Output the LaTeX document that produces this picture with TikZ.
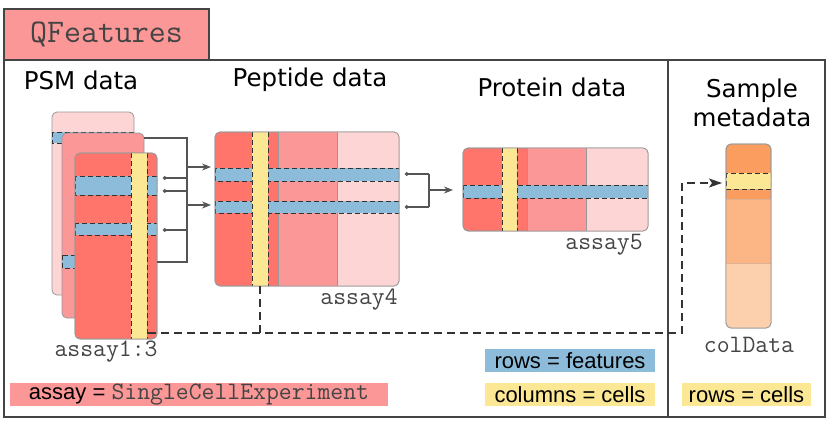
\documentclass[tikz,border=0pt]{standalone}
\usepackage{fontspec}
\setmainfont{DejaVu Sans}
\newfontfamily\legendfont{Liberation Sans}
\usetikzlibrary{arrows.meta}

\definecolor{redA}{HTML}{FF746B}
\definecolor{redB}{HTML}{FC9797}
\definecolor{redC}{HTML}{FDD5D5}
\definecolor{rowblue}{HTML}{8CBCDA}
\definecolor{colyellow}{HTML}{FCE795}
\definecolor{orangeA}{HTML}{FB9D5E}
\definecolor{orangeB}{HTML}{FCB585}
\definecolor{orangeC}{HTML}{FDD0AD}
\definecolor{edgegray}{HTML}{999999}
\definecolor{linkgray}{HTML}{555555}
\definecolor{monogray}{HTML}{444444}

\tikzset{
  frame/.style={draw=monogray, line width=1.4pt},
  card/.style={draw=edgegray, line width=0.8pt, rounded corners=5pt, inner sep=0pt, outer sep=0pt, anchor=north west},
  cardedge/.style={draw=edgegray, line width=0.8pt, rounded corners=5pt},
  colsep/.style={draw=edgegray, line width=0.8pt},
  band/.style={fill=rowblue, draw=black!80, dash pattern=on 5pt off 3pt, line width=1pt},
  colband/.style={fill=colyellow},
  coledge/.style={draw=black!80, dash pattern=on 5pt off 3pt, line width=1pt},
  link/.style={draw=linkgray, line width=1.3pt},
  dotlink/.style={link, {Circle[length=3.5pt]}-},
  arrowlink/.style={link, -{Stealth[length=9pt, width=7pt]}},
  longdash/.style={draw=black!80, dash pattern=on 8pt off 5pt, line width=1.1pt},
  title/.style={font=\fontsize{24.5}{29}\selectfont},
  mono/.style={font=\ttfamily\fontsize{25}{30}\selectfont, text=monogray},
  legend/.style={font=\legendfont\fontsize{22}{26}\selectfont, inner sep=0pt, minimum height=23pt}
}

\begin{document}
\begin{tikzpicture}[x=1pt, y=-1pt]
\useasboundingbox (0,0) rectangle (832,426);

% QFeatures tab and frame
\node[draw=monogray, line width=1.4pt, fill=redB, minimum width=205pt, minimum height=51pt,
      font=\ttfamily\fontsize{33}{38}\selectfont, text=monogray] (tab) at (106.5,34.5) {QFeatures};
\draw[frame] (4,60) rectangle (825,417);
\draw[frame] (668,60) -- (668,417);

% titles
\node[title] (psmtitle) at (81,80) {PSM data};
\node[title] (peptitle) at (310,80) {Peptide data};
\node[title] (prottitle) at (552,87) {Protein data};
\node[title, align=center] (sampletitle) at (752,103) {Sample\\metadata};

% PSM data, back card
\node[card, fill=redC, minimum width=82pt, minimum height=183pt] (psmback) at (52,112) {};
\begin{scope}
  \clip[rounded corners=5pt] (52,112) rectangle (134,295);
  \draw[band] (52,132) rectangle (134,143);
\end{scope}
% middle card
\node[card, fill=redB, minimum width=82pt, minimum height=185pt] (psmmid) at (62,133) {};
\begin{scope}
  \clip[rounded corners=5pt] (62,133) rectangle (144,318);
  \draw[band] (62,255) rectangle (144,268);
\end{scope}
% front card
\node[card, fill=redA, minimum width=82pt, minimum height=186pt] (psmfront) at (75,153) {};
\begin{scope}
  \clip[rounded corners=5pt] (75,153) rectangle (157,339);
  \draw[band] (75,176) rectangle (157,195);
  \draw[band] (75,223) rectangle (157,235);
  \fill[colband] (131,153) rectangle (147,339);
  \draw[coledge] (131,153) -- (131,339) (147,153) -- (147,339);
\end{scope}
\draw[cardedge] (psmfront.north west) rectangle (psmfront.south east);
% label
\node[mono] (psmlabel) at (106,352) {assay1:3};

% PSM -> peptide
\coordinate (j1) at (187,138);
\coordinate (j2) at (187,262);
\draw[link] (psmmid.east |- j1) -- (j1) -- (j2) -- (psmfront.east |- j2);
\coordinate (d1) at (163,178);
\coordinate (d2) at (163,191);
\coordinate (d3) at (163,230);
\draw[dotlink] (d1) -- (d1 -| j1);
\draw[dotlink] (d2) -- (d2 -| j1);
\draw[dotlink] (d3) -- (d3 -| j1);

% Peptide data
\node[card, fill=redA, minimum width=184pt, minimum height=154pt] (pep) at (215,132) {};
\begin{scope}
  \clip[rounded corners=5pt] (215,132) rectangle (399,286);
  \fill[redB] (278,132) rectangle (337,286);
  \fill[redC] (337,132) rectangle (399,286);
  \draw[colsep] (278,132) -- (278,286) (337,132) -- (337,286);
  \draw[band] (215,168) rectangle (399,181);
  \draw[band] (215,201) rectangle (399,213);
  \fill[colband] (252,132) rectangle (268,286);
  \draw[coledge] (252,132) -- (252,286) (268,132) -- (268,286);
\end{scope}
\draw[cardedge] (pep.north west) rectangle (pep.south east);
\node[mono] (peplabel) at (359,300) {assay4};
\draw[arrowlink, shorten >=4pt] (j1 |- 0,167) -- (pep.west |- 0,167);
\draw[arrowlink, shorten >=4pt] (j1 |- 0,205) -- (pep.west |- 0,205);

% Protein data
\node[card, fill=redA, minimum width=185pt, minimum height=83pt] (prot) at (463,148) {};
\begin{scope}
  \clip[rounded corners=5pt] (463,148) rectangle (648,231);
  \fill[redB] (527,148) rectangle (586,231);
  \fill[redC] (586,148) rectangle (648,231);
  \draw[colsep] (527,148) -- (527,231) (586,148) -- (586,231);
  \draw[band] (463,185) rectangle (648,198);
  \fill[colband] (502,148) rectangle (517,231);
  \draw[coledge] (502,148) -- (502,231) (517,148) -- (517,231);
\end{scope}
\draw[cardedge] (prot.north west) rectangle (prot.south east);
\node[mono] (protlabel) at (604,245) {assay5};

% peptide -> protein
\coordinate (k1) at (429,174);
\coordinate (k2) at (429,207);
\coordinate (d4) at (405,174);
\coordinate (d5) at (405,207);
\draw[dotlink] (d4) -- (k1);
\draw[dotlink] (d5) -- (k2);
\draw[link] (k1) -- (k2);
\draw[arrowlink, shorten >=10pt] (429,190) -- (prot.west |- 0,190);

% Sample metadata
\node[card, fill=orangeA, minimum width=45pt, minimum height=184pt] (coldata) at (726,144) {};
\begin{scope}
  \clip[rounded corners=5pt] (726,144) rectangle (771,328);
  \fill[orangeB] (726,199) rectangle (771,263);
  \fill[orangeC] (726,263) rectangle (771,328);
  \draw[colsep, draw=orangeA!80!black!60] (726,199) -- (771,199) (726,263) -- (771,263);
  \draw[band, fill=colyellow] (726,173) rectangle (771,189);
\end{scope}
\draw[cardedge] (coldata.north west) rectangle (coldata.south east);
\node[mono] (collabel) at (749,345) {colData};

% columns -> colData
\coordinate (c1) at (148,333);
\coordinate (c2) at (682,333);
\coordinate (c3) at (682,183);
\coordinate (c4) at (260,286);
\draw[longdash, -{Stealth[length=13pt, width=9pt, inset=3pt]}, shorten >=4pt]
  (c1) -- (c2) -- (c3) -- (coldata.west |- c3);
\draw[longdash] (c4) -- (c4 |- c1);

% legends
\node[legend, fill=redB, minimum width=378pt] (assaykey) at (199,394.5)
  {assay = {\ttfamily\fontsize{25}{30}\selectfont\color{monogray}SingleCellExperiment}};
\node[legend, fill=rowblue, minimum width=170pt] (rowkey) at (570,360.5) {rows = features};
\node[legend, fill=colyellow, minimum width=170pt] (colkey) at (570,394.5) {columns = cells};
\node[legend, fill=colyellow, minimum width=129pt] (cellkey) at (746.5,394.5) {rows = cells};
\end{tikzpicture}
\end{document}
